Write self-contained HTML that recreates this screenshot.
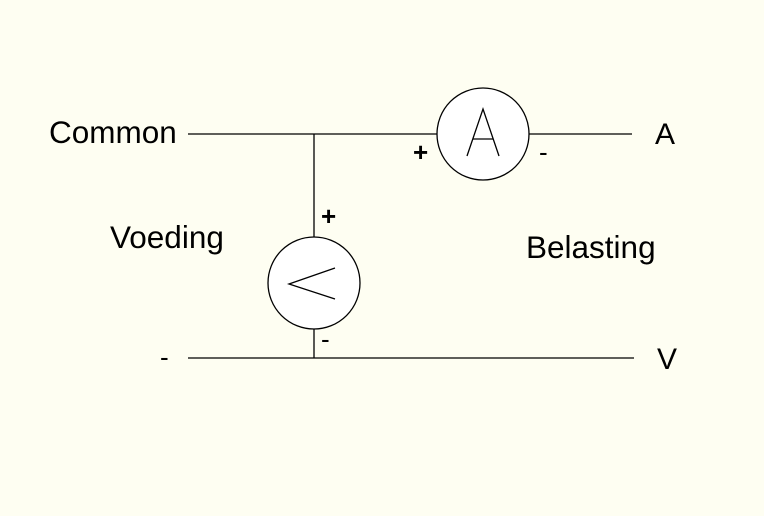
<!DOCTYPE html>
<html><head><style>
body{margin:0;background:#fefef2;}
svg{display:block}
text{font-family:"Liberation Sans",Arial,sans-serif;fill:#000}
</style></head><body>
<svg width="764" height="516" viewBox="0 0 764 516">
<rect width="764" height="516" fill="#fefef2"/>
<g stroke="#000" stroke-width="1.3" fill="none">
<line x1="188" y1="134" x2="437" y2="134"/>
<line x1="529" y1="134" x2="632" y2="134"/>
<line x1="188" y1="358" x2="634" y2="358"/>
<line x1="314" y1="134" x2="314" y2="237"/>
<line x1="314" y1="329" x2="314" y2="358"/>
<circle cx="483" cy="134" r="46" fill="#fff"/>
<circle cx="314" cy="283" r="46" fill="#fff"/>
<polyline points="335,268 289,284 335,299"/>
<polyline points="467,156 483,109 499,156"/>
<line x1="473" y1="139" x2="493" y2="139"/>
</g>
<text x="49" y="143" font-size="31.5">Common</text>
<text x="110" y="248" font-size="31.5">Voeding</text>
<text x="526" y="258" font-size="31.5">Belasting</text>
<text x="655" y="144" font-size="30">A</text>
<text x="657" y="369" font-size="30">V</text>
<text x="160" y="366" font-size="26">-</text>
<text x="413" y="161" font-size="26" font-weight="bold">+</text>
<text x="539" y="161" font-size="26">-</text>
<text x="321" y="225" font-size="26" font-weight="bold">+</text>
<text x="321" y="348" font-size="26">-</text>
</svg>
</body></html>
